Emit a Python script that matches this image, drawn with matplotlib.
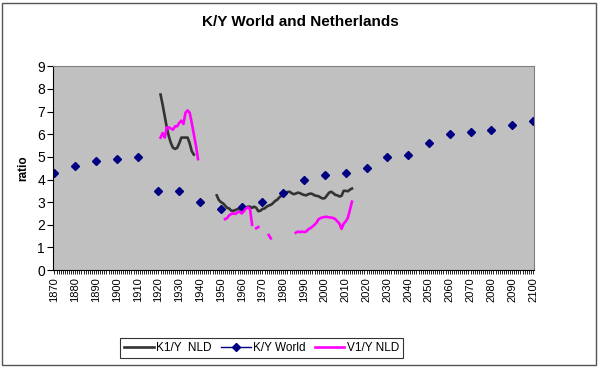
import numpy as np
import matplotlib
matplotlib.use("Agg")
import matplotlib.pyplot as plt
from matplotlib.patches import Rectangle

plt.rcParams['font.family'] = ['Liberation Sans', 'DejaVu Sans']

# K/Y World, one value per decade
world_years = list(range(1870, 2101, 10))
world_vals = [4.3, 4.6, 4.8, 4.9, 5.0, 3.5, 3.5, 3.0, 2.7, 2.8, 3.0, 3.4,
              4.0, 4.2, 4.3, 4.5, 5.0, 5.1, 5.6, 6.0, 6.1, 6.2, 6.4, 6.6]

# K1/Y NLD, two yearly segments
k1_start_a = 1921
k1_vals_a = [7.75, 7.3, 6.8, 6.3, 5.9, 5.6, 5.4, 5.35, 5.4, 5.6, 5.85, 5.85,
             5.85, 5.85, 5.6, 5.25, 5.1]
k1_start_b = 1948
k1_vals_b = [3.3, 3.1, 3.0, 2.95, 2.85, 2.75, 2.72, 2.62, 2.62, 2.65, 2.7, 2.68,
             2.7, 2.72, 2.75, 2.8, 2.8, 2.75, 2.8, 2.75, 2.6, 2.62, 2.7, 2.72,
             2.8, 2.85, 2.88, 2.95, 3.05, 3.1, 3.2, 3.28, 3.33, 3.42, 3.45, 3.46,
             3.4, 3.35, 3.38, 3.42, 3.4, 3.35, 3.32, 3.3, 3.35, 3.38, 3.36, 3.3,
             3.28, 3.26, 3.2, 3.16, 3.18, 3.3, 3.42, 3.46, 3.4, 3.32, 3.3, 3.25,
             3.28, 3.5, 3.5, 3.48, 3.55, 3.6]

# V1/Y NLD, several yearly segments
v1_start_a = 1921
v1_vals_a = [5.85, 6.05, 5.85, 6.3, 6.3, 6.25, 6.2, 6.35, 6.35, 6.5, 6.6, 6.45,
             6.95, 7.05, 6.95, 6.5, 6.0, 5.5, 4.9]
v1_start_b = 1952
v1_vals_b = [2.25, 2.3, 2.42, 2.48, 2.5, 2.48, 2.55, 2.58, 2.5, 2.6, 2.72, 2.77,
             2.7, 2.0]
v1_start_c = 1967
v1_vals_c = [1.85, 1.9]
v1_start_d = 1973
v1_vals_d = [1.55, 1.4]
v1_start_e = 1986
v1_vals_e = [1.65, 1.7, 1.68, 1.7, 1.68, 1.7, 1.8, 1.85, 1.92, 2.0, 2.1, 2.25,
             2.3, 2.33, 2.35, 2.35, 2.33, 2.32, 2.3, 2.25, 2.15, 2.05, 1.82,
             2.05, 2.15, 2.3, 2.65, 3.02]

years = np.arange(1870, 2101)


def yearly(segments):
    s = np.full(len(years), np.nan)
    for start, vals in segments:
        i = start - years[0]
        s[i:i + len(vals)] = vals
    return s


world = yearly([(y, [v]) for y, v in zip(world_years, world_vals)])
k1 = yearly([(k1_start_a, k1_vals_a), (k1_start_b, k1_vals_b)])
v1 = yearly([(v1_start_a, v1_vals_a), (v1_start_b, v1_vals_b), (v1_start_c, v1_vals_c),
             (v1_start_d, v1_vals_d), (v1_start_e, v1_vals_e)])

fig = plt.figure(figsize=(6, 3.68), dpi=100)
ax = fig.add_axes([0.089, 0.266, 0.801, 0.554])
ax.set_facecolor('#C0C0C0')

ax.plot(years, k1, color='#333333', lw=1.9, label='K1/Y  NLD')
ax.plot(years, world, color='#000080', lw=1, marker='D', markersize=4.5, label='K/Y World')
ax.plot(years, v1, color='#FF00FF', lw=1.9, label='V1/Y NLD')

ax.set_xlim(1869.5, 2100.5)
ax.set_ylim(0, 9)
ax.set_xticks(world_years)
ax.set_xticklabels([str(y) for y in world_years], rotation=90, fontsize=8)
ax.set_xticks(years, minor=True)
ax.set_yticks(range(10))
ax.tick_params(axis='y', labelsize=10, length=4, width=0.8, direction='out', pad=2)
ax.tick_params(axis='x', which='both', length=3, width=0.6, direction='out', pad=2)

for side in ['top', 'right']:
    ax.spines[side].set_color('#808080')
ax.spines['left'].set_color('black')
ax.spines['bottom'].set_color('black')

ax.set_ylabel('ratio', fontsize=8.5, fontweight='bold')
ax.yaxis.set_label_coords(-0.05, 0.5)
fig.text(0.5, 0.94, 'K/Y World and Netherlands', ha='center', va='center',
         fontsize=11, fontweight='bold')

leg = fig.legend(loc='center', bbox_to_anchor=(0.436, 0.054), ncol=3, fontsize=8.5,
                 frameon=True, fancybox=False, handlelength=2.5, handletextpad=0.2,
                 columnspacing=0.8, borderpad=0.35)
leg.get_frame().set_edgecolor('black')
leg.get_frame().set_linewidth(0.8)

fig.patches.append(Rectangle((0.004, 0.008), 0.99, 0.985, transform=fig.transFigure,
                             fill=False, edgecolor='#555555', lw=1))

fig.savefig('out.png', dpi=100)
